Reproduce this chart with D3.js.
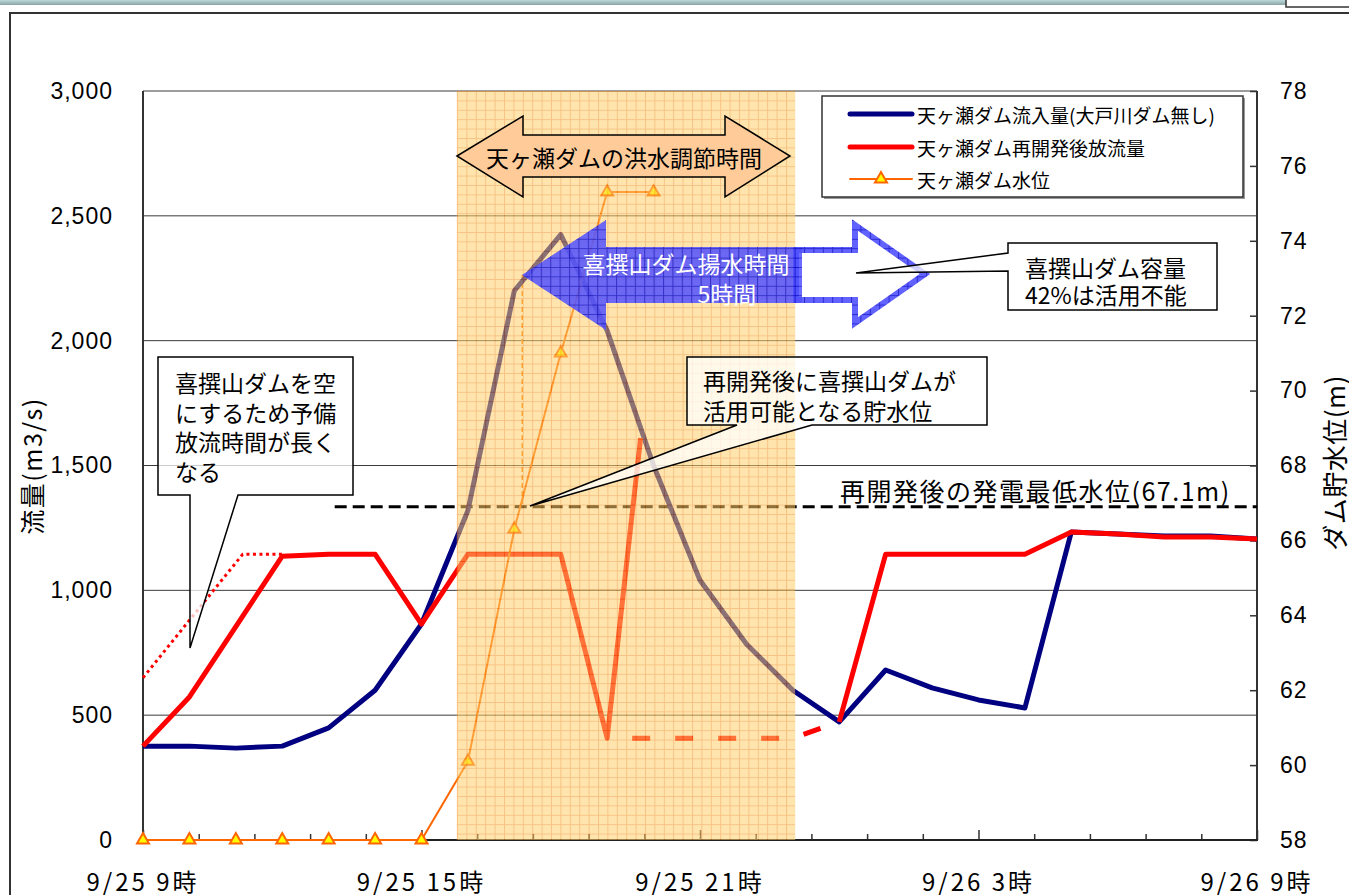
<!DOCTYPE html>
<html><head><meta charset="utf-8">
<script src="https://cdn.jsdelivr.net/npm/d3@7"></script>
<style>body{margin:0;background:#fff;overflow:hidden}svg{display:block}</style>
</head><body><svg id="c" width="1349" height="895"></svg>
<script>
// ---------- data ----------
const hours = [0,1,2,3,4,5,6,7,8,9,10,11,12,13,14,15,16,17,18,19,20,21,22,23,24];
const inflow = [376,376,368,376,449,600,865,1320,2200,2425,2040,1500,1040,785,600,473,681,609,561,529,1234,1226,1218,1218,1206];
const releaseHoursA = [0,1,2,3,4,5,6,7,8,9,10,10.72];
const releaseA = [376,573,855,1137,1145,1145,865,1145,1145,1145,408,1610];
const releaseDashHours = [10,11,12,13,14,15];
const releaseDash = [408,408,408,408,408,473];
const releaseHoursB = [15,16,17,18,19,20,21,22,23,24];
const releaseB = [473,1145,1145,1145,1145,1234,1226,1214,1214,1206];
const preReleaseHours = [0,2.15,3];
const preRelease = [650,1145,1145];
const levelHours = [0,1,2,3,4,5,6,7,8,9,10,11];
const level = [58,58,58,58,58,58,58,60.1,66.3,71.0,75.3,75.3];
const minLevelDrawn = 66.9;      // 再開発後の発電最低水位 line
const levelCrossHour = 8.17;     // time level reaches that line
const floodStart = 6.76, floodEnd = 14.05;
const flowTicks = [0,500,1000,1500,2000,2500,3000];
const levelTicks = [58,60,62,64,66,68,70,72,74,76,78];
const xLabelHours = [0,6,12,18,24];
const xLabels = ["9/25 9時","9/25 15時","9/25 21時","9/26 3時","9/26 9時"];
const legendLabels = ["天ヶ瀬ダム流入量(大戸川ダム無し)","天ヶ瀬ダム再開発後放流量","天ヶ瀬ダム水位"];

const JP = "'Noto Sans CJK JP','Noto Sans',sans-serif";
const NUM = "'Liberation Sans',Arial,sans-serif";

const svg = d3.select("#c");
const defs = svg.append("defs");
function gridPattern(id, size, bg, line, x0, y0){
  const p = defs.append("pattern").attr("id",id).attr("patternUnits","userSpaceOnUse")
    .attr("width",size).attr("height",size).attr("x",x0).attr("y",y0);
  p.append("rect").attr("width",size).attr("height",size).attr("fill",bg);
  p.append("path").attr("d",`M0,0.5H${size}M0.5,0V${size}`).attr("stroke",line).attr("stroke-width",1).attr("fill","none");
}
gridPattern("shadePat",9.4,"#FFD06A","#F09020",457,91);
gridPattern("bluePat",9.4,"#5252FF","#1414D0",522,220);
const lg = defs.append("linearGradient").attr("id","topband").attr("x1",0).attr("y1",0).attr("x2",0).attr("y2",1);
lg.append("stop").attr("offset","0").attr("stop-color","#BCD8D8");
lg.append("stop").attr("offset","1").attr("stop-color","#8AA4A4");

// frame
svg.append("rect").attr("x",0).attr("y",0).attr("width",1349).attr("height",5).attr("fill","url(#topband)");
svg.append("rect").attr("x",1286).attr("y",-3).attr("width",70).attr("height",10).attr("fill","#fff").attr("stroke","#333").attr("stroke-width",1.5);
svg.append("path").attr("d","M10,900V13H1352").attr("fill","none").attr("stroke","#333").attr("stroke-width",2);

// scales
const x = d3.scaleLinear().domain([0,24]).range([143,1257]);
const yF = d3.scaleLinear().domain([0,3000]).range([840,91]);
const yL = d3.scaleLinear().domain([58,78]).range([840,91]);

// gridlines
svg.append("g").selectAll("line").data(flowTicks.filter(d=>d>0)).join("line")
  .attr("x1",x(0)).attr("x2",x(24)).attr("y1",d=>yF(d)).attr("y2",d=>yF(d))
  .attr("stroke","#3a3a3a").attr("stroke-width",1);

// axes
const gl = svg.append("g").attr("transform",`translate(${x(0)},0)`)
  .call(d3.axisLeft(yF).tickValues(flowTicks).tickFormat(d3.format(",")).tickSize(0).tickPadding(30));
gl.select(".domain").remove();
gl.selectAll("text").attr("font-family",NUM).attr("font-size",23).attr("letter-spacing",1).attr("fill","#000");

const gr = svg.append("g").attr("transform",`translate(${x(24)},0)`)
  .call(d3.axisRight(yL).tickValues(levelTicks).tickSize(-7).tickPadding(23));
gr.select(".domain").remove();
gr.selectAll("line").attr("stroke","#333").attr("stroke-width",1.5);
gr.selectAll("text").attr("font-family",NUM).attr("font-size",23).attr("letter-spacing",1).attr("fill","#000");

const minorTicks = d3.range(0,24.001,1.2);
const gb = svg.append("g").attr("transform",`translate(0,${yF(0)})`)
  .call(d3.axisBottom(x).tickValues(minorTicks).tickSize(-6).tickFormat(""));
gb.select(".domain").remove();
gb.selectAll("line").attr("stroke","#333").attr("stroke-width",1.5)
  .attr("y2",d=>(Math.abs(d/6-Math.round(d/6))<1e-6)?-10:-6);

svg.append("line").attr("x1",x(0)).attr("x2",x(0)).attr("y1",yF(3000)).attr("y2",yF(0)).attr("stroke","#333").attr("stroke-width",2);
svg.append("line").attr("x1",x(24)).attr("x2",x(24)).attr("y1",yF(3000)).attr("y2",yF(0)).attr("stroke","#333").attr("stroke-width",2);
svg.append("line").attr("x1",x(0)-1).attr("x2",x(24)+1).attr("y1",yF(0)).attr("y2",yF(0)).attr("stroke","#222").attr("stroke-width",2);

// x labels
svg.append("g").selectAll("text").data(xLabelHours).join("text")
  .attr("x",d=>x(d)).attr("y",880).attr("text-anchor","middle").attr("dominant-baseline","central")
  .attr("font-family",JP).attr("font-size",24).attr("letter-spacing",3)
  .text((d,i)=>xLabels[i]);

// axis titles
svg.append("text").attr("transform","translate(31,466) rotate(-90)").attr("text-anchor","middle").attr("dominant-baseline","central")
  .attr("font-family",JP).attr("font-size",25).attr("letter-spacing",1.5).text("流量(m3/s)");
svg.append("text").attr("transform","translate(1333,463) rotate(-90)").attr("text-anchor","middle").attr("dominant-baseline","central")
  .attr("font-family",JP).attr("font-size",26).attr("letter-spacing",0.5).text("ダム貯水位(m)");

// reference lines
svg.append("line").attr("x1",x(4.13)).attr("x2",x(24)).attr("y1",yL(minLevelDrawn)).attr("y2",yL(minLevelDrawn))
  .attr("stroke","#000").attr("stroke-width",3).attr("stroke-dasharray","12,6");
svg.append("line").attr("x1",x(levelCrossHour)).attr("x2",x(levelCrossHour)).attr("y1",yF(2263)).attr("y2",yL(minLevelDrawn))
  .attr("stroke","#FF8000").attr("stroke-width",1.5).attr("stroke-dasharray","5,3");

// series
const lineF = d3.line().x(d=>x(d[0])).y(d=>yF(d[1]));
const lineL = d3.line().x(d=>x(d[0])).y(d=>yL(d[1]));
svg.append("path").attr("d",lineF(hours.map((h,i)=>[h,inflow[i]])))
  .attr("fill","none").attr("stroke","#000080").attr("stroke-width",5).attr("stroke-linejoin","round");
svg.append("path").attr("d",lineF(preReleaseHours.map((h,i)=>[h,preRelease[i]])))
  .attr("fill","none").attr("stroke","#FF0000").attr("stroke-width",3).attr("stroke-dasharray","3,3.5");
svg.append("path").attr("d",lineF(releaseHoursA.map((h,i)=>[h,releaseA[i]])))
  .attr("fill","none").attr("stroke","#FF0000").attr("stroke-width",5).attr("stroke-linejoin","round");
svg.append("path").attr("d",lineF(releaseDashHours.map((h,i)=>[h,releaseDash[i]])))
  .attr("fill","none").attr("stroke","#FF0000").attr("stroke-width",5).attr("stroke-dasharray","18,25").attr("stroke-dashoffset",18);
svg.append("path").attr("d",lineF(releaseHoursB.map((h,i)=>[h,releaseB[i]])))
  .attr("fill","none").attr("stroke","#FF0000").attr("stroke-width",5).attr("stroke-linejoin","round");
svg.append("path").attr("d",lineL(levelHours.map((h,i)=>[h,level[i]])))
  .attr("fill","none").attr("stroke","#FF6600").attr("stroke-width",2);
const tri = d3.symbol().type(d3.symbolTriangle).size(62);
svg.append("g").selectAll("path").data(levelHours.map((h,i)=>[h,level[i]])).join("path")
  .attr("d",tri).attr("transform",d=>`translate(${x(d[0])},${yL(d[1])})`)
  .attr("fill","#FFFF00").attr("stroke","#FF6600").attr("stroke-width",2);

// flood-control shaded period
svg.append("rect").attr("x",x(floodStart)).attr("y",yF(3000)).attr("width",x(floodEnd)-x(floodStart)).attr("height",yF(0)-yF(3000))
  .attr("fill","url(#shadePat)").attr("opacity",0.55);

// double arrow
svg.append("path").attr("d","M457,156 L523,116 V135 H725 V116 L790,156 L725,197 V177 H523 V197 Z")
  .attr("fill","#FFCC99").attr("stroke","#000").attr("stroke-width",1.5).attr("stroke-linejoin","miter");
svg.append("text").attr("x",624).attr("y",157).attr("text-anchor","middle").attr("dominant-baseline","central")
  .attr("font-family",JP).attr("font-size",23).text("天ヶ瀬ダムの洪水調節時間");

// hollow right arrow
svg.append("path").attr("d","M796,250 H855 V225 L925,274 L855,323 V300 H796 Z")
  .attr("fill","#fff").attr("stroke","url(#bluePat)").attr("stroke-width",6).attr("stroke-linejoin","miter").attr("opacity",0.9);
// filled left arrow
svg.append("path").attr("d","M522,275 L606,220 V247 H802 V303 H606 V330 Z")
  .attr("fill","url(#bluePat)").attr("opacity",0.85);
svg.append("text").attr("x",686).attr("y",263).attr("text-anchor","middle").attr("dominant-baseline","central")
  .attr("font-family",JP).attr("font-size",23).attr("fill","#fff").text("喜撰山ダム揚水時間");
svg.append("text").attr("x",727).attr("y",293).attr("text-anchor","middle").attr("dominant-baseline","central")
  .attr("font-family",JP).attr("font-size",23).attr("fill","#fff").text("5時間");

// callouts
function callout(d, lines, tx, ty0, dy){
  svg.append("path").attr("d",d).attr("fill","#fff").attr("fill-opacity",0.75).attr("stroke","#000").attr("stroke-width",1.5);
  lines.forEach((t,i)=>svg.append("text").attr("x",tx).attr("y",ty0+i*dy).attr("dominant-baseline","central")
    .attr("font-family",JP).attr("font-size",23).text(t));
}
callout("M158,357 H353 V495 H238 L190,648 V495 H158 Z",["喜撰山ダムを空","にするため予備","放流時間が長く","なる"],175,382,29.5);
callout("M687,357 H987 V425 H812 L530,506 L737,425 H687 Z",["再開発後に喜撰山ダムが","活用可能となる貯水位"],703,380,30);
callout("M1008,243 H1217 V310 H1008 V271 L856,273 L1008,253 Z",["喜撰山ダム容量","42%は活用不能"],1025,267,27);

svg.append("text").attr("x",840).attr("y",490).attr("dominant-baseline","central")
  .attr("font-family",JP).attr("font-size",25).attr("letter-spacing",1.5).text("再開発後の発電最低水位(67.1m)");

// legend
const lgG = svg.append("g");
lgG.append("rect").attr("x",824).attr("y",98).attr("width",421).attr("height",101).attr("fill","#999");
lgG.append("rect").attr("x",822).attr("y",96).attr("width",421).attr("height",101).attr("fill","#fff").attr("stroke","#333").attr("stroke-width",1.5);
const legY = [114,147,179];
const legStyles = [{c:"#000080",w:5},{c:"#FF0000",w:5},{c:"#FF6600",w:2}];
legY.forEach((yy,i)=>{
  lgG.append("line").attr("x1",850).attr("x2",912).attr("y1",yy).attr("y2",yy)
    .attr("stroke",legStyles[i].c).attr("stroke-width",legStyles[i].w).attr("stroke-linecap","round");
  lgG.append("text").attr("x",917).attr("y",yy).attr("dominant-baseline","central")
    .attr("font-family",JP).attr("font-size",19).text(legendLabels[i]);
});
lgG.append("path").attr("d",tri).attr("transform",`translate(881,${legY[2]})`)
  .attr("fill","#FFFF00").attr("stroke","#FF6600").attr("stroke-width",2);
</script></body></html>
